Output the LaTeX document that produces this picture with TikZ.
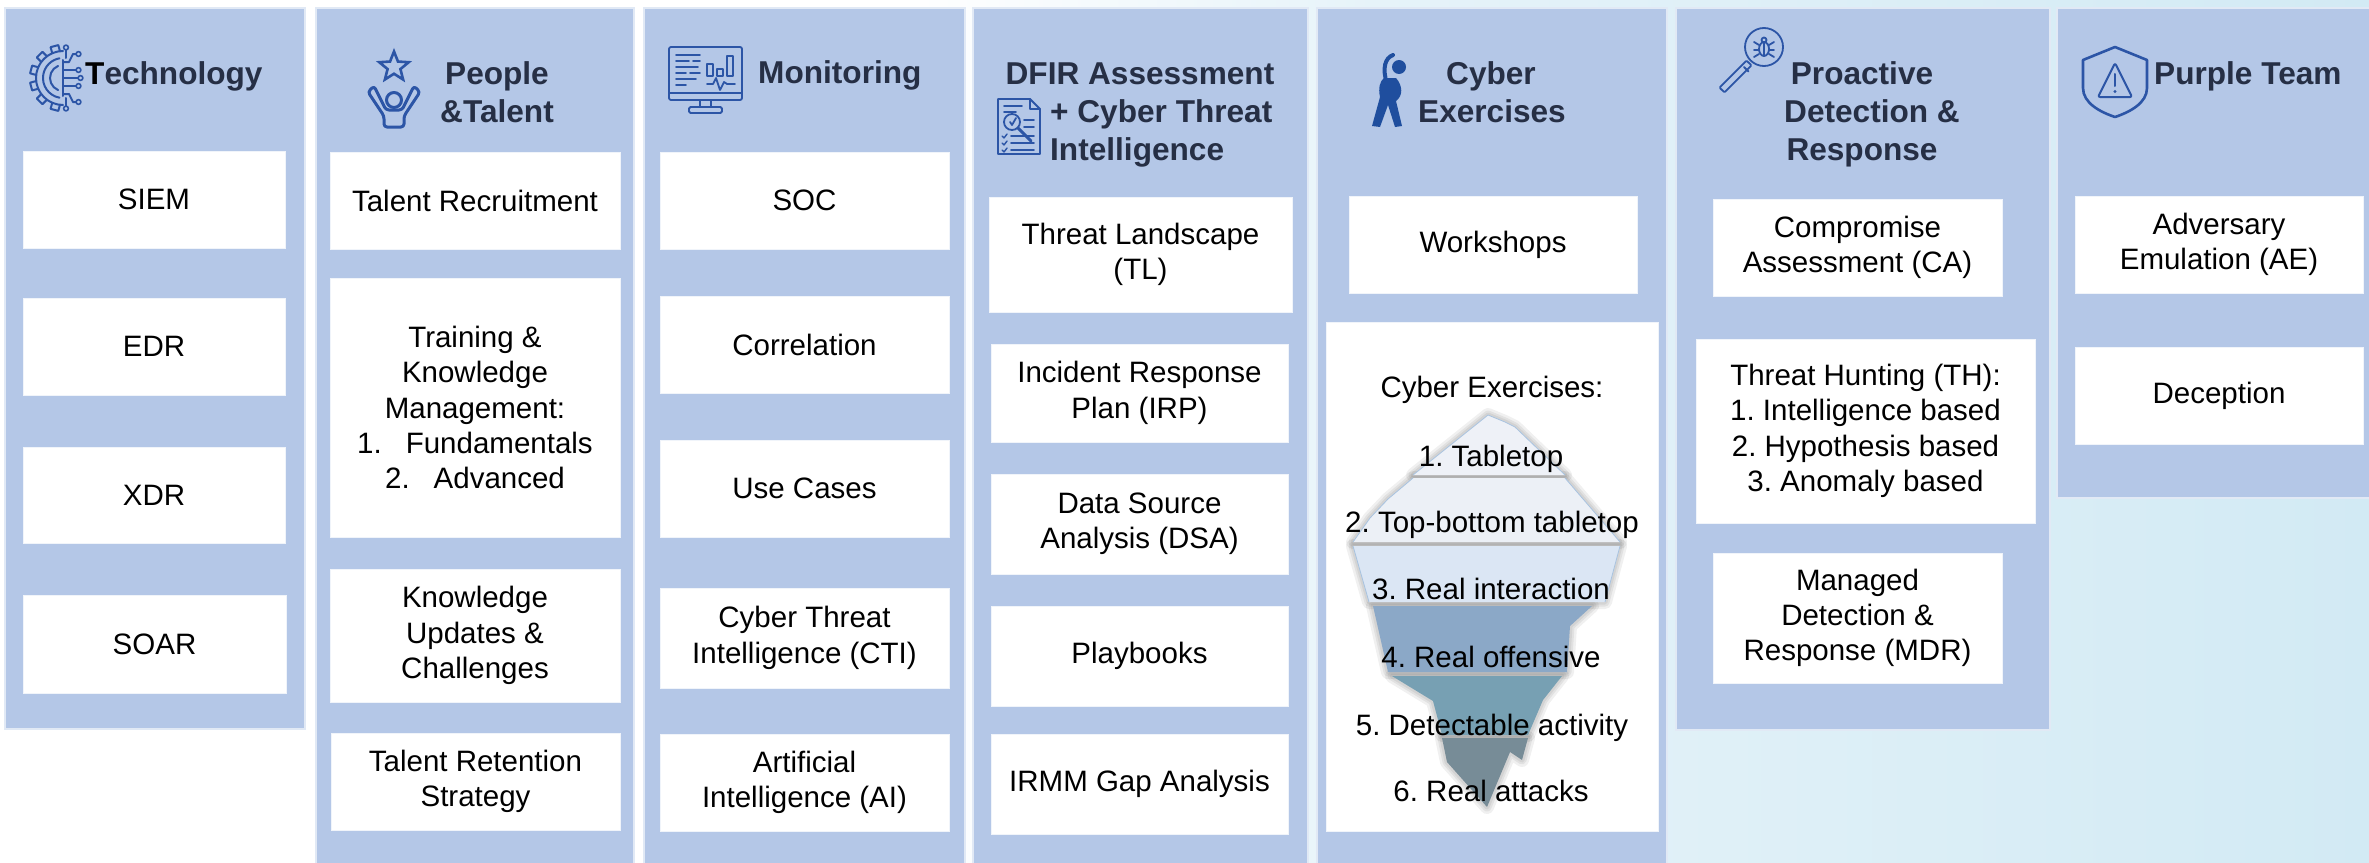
\documentclass[tikz,border=0pt]{standalone}
\usepackage{fontspec}
\setmainfont{Liberation Sans}
\usetikzlibrary{shapes.geometric}
\frenchspacing

\definecolor{panelc}{HTML}{B4C7E7}
\definecolor{hdrc}{HTML}{262F45}
\definecolor{icoc}{HTML}{2C55A6}
\definecolor{figc}{HTML}{1F4E9E}
\definecolor{bgA}{HTML}{E6F3F9}
\definecolor{bgB}{HTML}{D2EAF4}
\definecolor{bergA}{HTML}{EEF1F7}
\definecolor{bergB}{HTML}{ECF0F6}
\definecolor{bergC}{HTML}{DBE6F4}
\definecolor{bergD}{HTML}{8BA8C7}
\definecolor{bergE}{HTML}{77A0B3}
\definecolor{bergF}{HTML}{778C97}
\definecolor{bergline}{HTML}{A8C3E0}

\newcommand\txtfont{\fontsize{29.5}{35.3}\selectfont}
\newcommand\hdrfont{\fontsize{31.6}{38}\selectfont\bfseries}
% rectangle node given by its two corners: [style]{name}{x1}{y1}{x2}{y2}{text}
\newcommand\rectnode[7][]{\node[#1, minimum width={(#5-#3)*1pt}, minimum height={(#6-#4)*1pt}] (#2) at ({(#3+#5)/2},{(#4+#6)/2}) {#7};}

\pgfdeclarehorizontalshading{bgshade}{100bp}{color(0bp)=(white); color(44bp)=(white); color(54bp)=(bgA); color(75bp)=(bgB); color(100bp)=(bgB)}

\tikzset{
  panel/.style={fill=panelc, draw=white!60!panelc, line width=1.5pt, inner sep=0},
  cell/.style={fill=white, draw=white!80!panelc, line width=0.8pt, inner sep=0, align=center, font=\txtfont, text=black},
  hdr/.style={font=\hdrfont, text=hdrc, inner sep=0},
  ico/.style={draw=icoc, line width=2pt, line join=round, line cap=round},
  bergtxt/.style={font=\txtfont, text=black, inner sep=0, anchor=base},
  bergshadow/.style={draw=black, draw opacity=0.06, line join=round},
  bergedge/.style={draw=bergline, line width=0.8pt, line join=round},
}

\begin{document}
\begin{tikzpicture}[x=1pt,y=-1pt]
\useasboundingbox (0,0) rectangle (2369,862);
\shade[shading=bgshade] (0,0) rectangle (2369,862);

% ---------- column panels ----------
\rectnode[panel]{colTech}{5}{8}{305}{729}{}
\rectnode[panel]{colPeople}{316}{8}{634}{868}{}
\rectnode[panel]{colMon}{644}{8}{965}{868}{}
\rectnode[panel]{colDfir}{973}{8}{1308}{868}{}
\rectnode[panel]{colCyber}{1317}{8}{1667}{868}{}
\rectnode[panel]{colProact}{1676}{8}{2050}{730}{}
\rectnode[panel]{colPurple}{2057}{8}{2374}{498}{}

% ---------- headers ----------
\node[hdr, anchor=base west] (hTech) at (85,84) {{\color{black}T}echnology};
\node[hdr, anchor=base] (hPeopleA) at (497,84) {People};
\node[hdr, anchor=base] (hPeopleB) at (497,122) {\&Talent};
\node[hdr, anchor=base west] (hMon) at (758,83) {Monitoring};
\node[hdr, anchor=base] (hDfirA) at (1140,84) {DFIR Assessment};
\node[hdr, anchor=base west] (hDfirB) at (1050,122) {+ Cyber Threat};
\node[hdr, anchor=base west] (hDfirC) at (1050,160) {Intelligence};
\node[hdr, anchor=base] (hCybA) at (1491,84) {Cyber};
\node[hdr, anchor=base] (hCybB) at (1492,122) {Exercises};
\node[hdr, anchor=base] (hProA) at (1862,84) {Proactive};
\node[hdr, anchor=base] (hProB) at (1872,122) {Detection \&};
\node[hdr, anchor=base] (hProC) at (1862,160) {Response};
\node[hdr, anchor=base west] (hPurple) at (2154,84) {Purple Team};

% ---------- icons ----------
% gear with circuit traces
\begin{scope}[ico]
  \draw (63,78) ++(90:27) arc[start angle=90, end angle=270, radius=27];
  \foreach \a in {105,135,165,195,225,255}
    \draw[rotate around={\a:(63,78)}] (90,74) -- (96,74) -- (96,82) -- (90,82);
  \draw (63,78) ++(100:20) arc[start angle=100, end angle=260, radius=20];
  \draw (63,78) ++(112:13) arc[start angle=112, end angle=248, radius=13];
  \draw (63,60) -- (63,96);
  \draw (63,62) -- (69,62) -- (73,54) -- (76,54);
  \draw (63,70) -- (76,70);
  \draw (63,78) -- (78,78);
  \draw (63,86) -- (76,86);
  \draw (63,94) -- (69,94) -- (73,102) -- (76,102);
  \draw (66,58) -- (66,50);
  \draw (66,98) -- (66,106);
  \foreach \p in {(78.5,54),(78.5,70),(80.5,78),(78.5,86),(78.5,102),(66,47.5),(66,108.5)}
    \draw[line width=1.6pt] \p circle (2.4);
\end{scope}

% star above a cheering person
\node[star, star points=5, star point ratio=2.3, draw=icoc, line width=2.6pt, minimum size=31pt, inner sep=0] (icoStar) at (394,67) {};
\draw[ico, line width=3pt] (394,100) circle (7.5);
\draw[ico, line width=3pt, rounded corners=3pt] (368,92) -- (374,86) -- (386,110) -- (402,110) -- (414,86) -- (420,92) -- (404,116) -- (404,127) -- (384,127) -- (384,116) -- cycle;

% monitor with dashboard
\begin{scope}[ico, line width=1.8pt]
  \draw[rounded corners=2pt] (669,47) rectangle (742,100);
  \draw (669,93) -- (742,93);
  \draw (700,100) -- (700,107) (711,100) -- (711,107);
  \draw[rounded corners=1.5pt] (689,107) rectangle (722,113);
  \draw (676,55) -- (700,55) (676,61) -- (689,61) (693,61) -- (700,61)
        (676,67) -- (698,67) (676,73) -- (686,73) (690,73) -- (700,73)
        (676,79) -- (696,79) (676,85) -- (686,85);
  \draw (707,64) rectangle (713,76) (717,69) rectangle (723,76) (727,56) rectangle (733,76);
  \draw (707,84) -- (713,84) -- (716,78) -- (720,90) -- (724,82) -- (727,84) -- (735,84);
\end{scope}

% report under a magnifier
\begin{scope}[ico, line width=1.8pt]
  \draw (998,99) -- (1030,99) -- (1040,109) -- (1040,154) -- (998,154) -- cycle;
  \draw (1030,99) -- (1030,109) -- (1040,109);
  \draw (1004,106) -- (1022,106) (1004,112) -- (1016,112)
        (1024,120) -- (1034,120) (1024,127) -- (1034,127);
  \draw (1012,122) circle (8);
  \draw (1010,122) -- (1012,125) -- (1016,118);
  \draw[line width=3pt] (1018,128) -- (1031,141);
  \foreach \y in {136,143,150}{
    \draw[line width=1.4pt] (1002,\y) -- (1004,\y+2) -- (1007,\y-2);
    \draw (1011,\y) -- (1034,\y);
  }
\end{scope}

% stretching figure
\fill[figc] (1399,67) circle (7);
\draw[figc, line width=4pt, line cap=round] (1387,84) .. controls (1382,68) and (1385,58) .. (1393,55);
\fill[figc] (1384,78) -- (1396,78) .. controls (1403,86) and (1403,96) .. (1396,101) -- (1402,126) -- (1395,127) -- (1388,105) -- (1380,127) -- (1372,126) -- (1380,97) .. controls (1378,88) and (1380,81) .. cycle;

% magnifier with bug
\begin{scope}[ico, line width=1.8pt]
  \draw (1764,47) circle (19);
  \draw[rounded corners=1pt] (1751.5,65.4) -- (1746.5,60.6) -- (1719.5,87.6) -- (1724.5,92.4) -- cycle;
  \draw (1744,67) -- (1748.5,71.5);
  \draw (1764,49) ellipse (5 and 7);
  \draw (1764,40) circle (2.5);
  \draw (1764,43) -- (1764,56);
  \draw (1759,45) -- (1754,42) (1759,50) -- (1754,50) (1759,54) -- (1754,57)
        (1769,45) -- (1774,42) (1769,50) -- (1774,50) (1769,54) -- (1774,57);
\end{scope}

% shield with warning sign
\begin{scope}[ico, line width=2.6pt]
  \draw (2115,47) -- (2147,60) -- (2147,88) .. controls (2147,103) and (2130,112) .. (2115,117) .. controls (2100,112) and (2083,103) .. (2083,88) -- (2083,60) -- cycle;
  \draw[line width=2pt, rounded corners=2pt] (2115,63) -- (2132,97) -- (2098,97) -- cycle;
  \draw[line width=2pt] (2115,74) -- (2115,86);
  \fill[icoc] (2115,91.5) circle (1.6);
\end{scope}

% ---------- Technology ----------
\rectnode[cell]{siem}{23}{151}{285}{248}{SIEM}
\rectnode[cell]{edr}{23}{298}{285}{395}{EDR}
\rectnode[cell]{xdr}{23}{447}{285}{543}{XDR}
\rectnode[cell]{soar}{23}{595}{286}{693}{SOAR}

% ---------- People & Talent ----------
\rectnode[cell]{recruit}{330}{152}{620}{249}{Talent Recruitment}
\rectnode[cell]{training}{330}{278}{620}{537}{Training \&\\Knowledge\\Management:\\1.\hspace{24pt}Fundamentals\\2.\hspace{24pt}Advanced}
\rectnode[cell]{updates}{330}{569}{620}{702}{Knowledge\\Updates \&\\Challenges}
\rectnode[cell]{retention}{331}{733}{620}{830}{Talent Retention\\Strategy}

% ---------- Monitoring ----------
\rectnode[cell]{soc}{660}{152}{949}{249}{SOC}
\rectnode[cell]{correlation}{660}{296}{949}{393}{Correlation}
\rectnode[cell]{usecases}{660}{440}{949}{537}{Use Cases}
\rectnode[cell]{cti}{660}{588}{949}{688}{Cyber Threat\\Intelligence (CTI)}
\rectnode[cell]{ai}{660}{734}{949}{831}{Artificial\\Intelligence (AI)}

% ---------- DFIR + CTI ----------
\rectnode[cell]{tl}{989}{197}{1292}{312}{Threat Landscape\\(TL)}
\rectnode[cell]{irp}{991}{344}{1288}{442}{Incident Response\\Plan (IRP)}
\rectnode[cell]{dsa}{991}{474}{1288}{574}{Data Source\\Analysis (DSA)}
\rectnode[cell]{playbooks}{991}{606}{1288}{706}{Playbooks}
\rectnode[cell]{irmm}{991}{734}{1288}{834}{IRMM Gap Analysis}

% ---------- Cyber Exercises ----------
\rectnode[cell]{workshops}{1349}{196}{1637}{293}{Workshops}
\rectnode[cell]{bergbox}{1326}{322}{1658}{831}{}
\node[bergtxt] (bergtitle) at (1492,397.6) {Cyber Exercises:};

% iceberg layers, soft shadow first
\foreach \w in {14,9,5}{
  \path[bergshadow, line width=\w pt] (1413,475) -- (1488,415) -- (1505,422) -- (1515,427) -- (1565,475) -- cycle;
  \path[bergshadow, line width=\w pt] (1413,478) -- (1565,478) -- (1620,542) -- (1353,542) -- (1370,518) -- (1388,499) -- cycle;
  \path[bergshadow, line width=\w pt] (1353,546) -- (1620,546) -- (1605,602) -- (1369,602) -- cycle;
  \path[bergshadow, line width=\w pt] (1373,606) -- (1592,606) -- (1570,626) -- (1567,672) -- (1388,672) -- cycle;
  \path[bergshadow, line width=\w pt] (1392,676) -- (1562,676) -- (1543,700) -- (1528,735) -- (1442,735) -- (1433,701) -- cycle;
  \path[bergshadow, line width=\w pt] (1442,738) -- (1528,738) -- (1522,760) -- (1510,752) -- (1487,807) -- (1447,762) -- cycle;
}
\fill[bergA] (1413,475) -- (1488,415) -- (1505,422) -- (1515,427) -- (1565,475) -- cycle;
\draw[bergedge] (1413,475) -- (1488,415) -- (1505,422) -- (1515,427) -- (1565,475);
\fill[bergB] (1413,478) -- (1565,478) -- (1620,542) -- (1353,542) -- (1370,518) -- (1388,499) -- cycle;
\draw[bergedge] (1565,478) -- (1620,542) (1353,542) -- (1370,518) -- (1388,499) -- (1413,478);
\fill[bergC] (1353,546) -- (1620,546) -- (1605,602) -- (1369,602) -- cycle;
\draw[bergedge] (1620,546) -- (1605,602) (1353,546) -- (1369,602);
\fill[bergD] (1373,606) -- (1592,606) -- (1570,626) -- (1567,672) -- (1388,672) -- cycle;
\fill[bergE] (1392,676) -- (1562,676) -- (1543,700) -- (1528,735) -- (1442,735) -- (1433,701) -- cycle;
\fill[bergF] (1442,738) -- (1528,738) -- (1522,760) -- (1510,752) -- (1487,807) -- (1447,762) -- cycle;

\node[bergtxt] (bergA) at (1491,466.6) {1. Tabletop};
\node[bergtxt] (bergB) at (1492,532.6) {2. Top-bottom tabletop};
\node[bergtxt] (bergC) at (1491,599.6) {3. Real interaction};
\node[bergtxt] (bergD) at (1491,667.6) {4. Real offensive};
\node[bergtxt] (bergE) at (1492,735.6) {5. Detectable activity};
\node[bergtxt] (bergF) at (1491,801.6) {6. Real attacks};

% ---------- Proactive Detection & Response ----------
\rectnode[cell]{ca}{1713}{199}{2002}{296}{Compromise\\Assessment (CA)}
\rectnode[cell]{th}{1696}{339}{2035}{523}{Threat Hunting (TH):\\1. Intelligence based\\2. Hypothesis based\\3. Anomaly based}
\rectnode[cell]{mdr}{1713}{553}{2002}{683}{Managed\\Detection \&\\Response (MDR)}

% ---------- Purple Team ----------
\rectnode[cell]{ae}{2075}{196}{2363}{293}{Adversary\\Emulation (AE)}
\rectnode[cell]{deception}{2075}{347}{2363}{444}{Deception}
\end{tikzpicture}
\end{document}
